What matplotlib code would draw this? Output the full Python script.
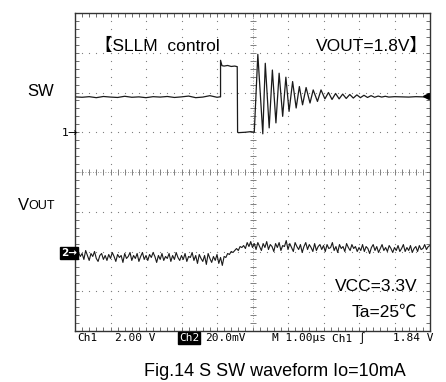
import numpy as np
import matplotlib.pyplot as plt

# SW (ch1), volts vs time in us
sw_base_t = [0.0, 0.2, 0.4, 0.6, 0.8, 1.0, 1.2, 1.4, 1.6, 1.8, 2.0, 2.2, 2.4, 2.6, 2.8,
             3.0, 3.2, 3.4, 3.6, 3.8, 4.0, 4.08]
sw_base_v = [1.78, 1.76, 1.79, 1.74, 1.80, 1.77, 1.75, 1.81, 1.76, 1.78, 1.74, 1.79, 1.77,
             1.80, 1.75, 1.78, 1.82, 1.74, 1.77, 1.84, 1.76, 1.78]
sw_pulse_t = [4.10, 4.10, 4.14, 4.20, 4.30, 4.40, 4.50, 4.57, 4.58, 4.60, 4.80, 4.95, 5.05]
sw_pulse_v = [1.78, 3.62, 3.35, 3.33, 3.36, 3.31, 3.33, 3.30, 0.0, -0.02, 0.0, 0.03, 0.0]
sw_ring_t = [5.15, 5.29, 5.36, 5.47, 5.56, 5.66, 5.75, 5.85, 5.94, 6.03, 6.13, 6.23, 6.32,
             6.41, 6.51, 6.62, 6.71, 6.83, 6.93, 7.04, 7.14, 7.24, 7.34, 7.44, 7.54, 7.64,
             7.74, 7.84, 7.94, 8.04, 8.14, 8.24, 8.34, 8.44, 8.54, 8.64, 8.74, 8.84, 9.0,
             9.2, 9.4, 9.6, 9.8, 10.0]
sw_ring_v = [3.92, -0.08, 3.47, 0.22, 3.13, 0.47, 2.97, 0.80, 2.77, 1.05, 2.55, 1.22, 2.30,
             1.38, 2.25, 1.47, 2.13, 1.55, 2.13, 1.68, 2.00, 1.65, 1.95, 1.68, 1.92, 1.70,
             1.90, 1.72, 1.88, 1.74, 1.86, 1.75, 1.84, 1.76, 1.82, 1.77, 1.81, 1.77, 1.79,
             1.78, 1.77, 1.79, 1.78, 1.78]

# VOUT (ch2), mV (AC) sampled every 0.05 us from 0 to 10 us
vout_mv = [
    -1.5, -3.5, -0.5, -2.5, -1.0, -4.0, 0.5, -2.0, -4.5, -1.0, -2.5, 0.0, -3.5, -5.0, -2.0, -1.0, -4.0, -2.0, -4.5, -1.5,
    -3.5, -0.5, -2.5, -5.0, -1.5, -3.0, -2.0, -5.5, -1.0, -3.5, -2.5, -0.5, -4.5, -2.0, -3.5, -1.0, -5.0, -2.5, -0.5, -4.0,
    -2.0, -4.5, -1.5, -3.0, -0.5, -2.5, -5.5, -2.0, -4.0, -1.0, -4.5, -2.5, -3.5, -1.0, -5.0, -2.0, -4.0, -0.5, -3.0, -4.5,
    -2.0, -4.0, -1.0, -5.0, -2.5, -3.0, -0.5, -4.5, -2.0, -6.0, -1.5, -3.5, -5.0, -2.0, -6.5, -1.0, -3.5, -5.5, -2.5, -4.5,
    -1.5, -6.0, -3.0, -7.0, -2.5, -3.0, -1.0, -1.5, 0.0, -0.5, 0.5, 1.5, 0.5, 2.5, 2.0, 3.0, 1.5, 4.5, 2.5, 5.0,
    2.0, 4.0, 1.0, 4.5, 2.5, 0.5, 4.0, 2.0, 5.0, 1.0, 3.5, 2.5, 0.0, 4.0, 2.0, 4.5, 0.5, 3.0, 2.5, 5.5,
    1.0, 4.0, 2.0, 0.0, 4.5, 2.5, 1.0, 3.5, -0.5, 2.5, 4.5, 1.0, 3.5, 2.0, 0.0, 4.0, 0.5, 2.5, 3.5, 1.0,
    3.0, 0.0, 3.5, 1.5, 2.0, 4.5, 0.5, 2.5, -0.5, 3.5, 1.5, 2.5, 0.0, 4.0, 2.0, 0.5, 3.5, 1.5, 2.5, 0.0,
    2.0, 0.5, 3.5, 0.0, 2.5, 1.5, -1.0, 2.0, 3.5, 0.5, 2.5, -0.5, 1.5, 3.5, 0.5, 2.0, 0.0, 3.0, 1.5, -0.5,
    2.0, 0.5, 3.0, 0.0, 1.5, 3.5, 0.0, 2.0, 0.5, 3.0, -0.5, 1.5, 2.5, 0.0, 3.0, 1.0, 1.5, 3.5, 1.0, 2.5,
    3.0]
vout_t = np.linspace(0, 10, len(vout_mv))

ch1_volts_per_div = 2.0
ch2_mv_per_div = 20.0
ch1_ground_div = 1.0
ch2_ground_div = -2.0
trig_level = 1.84

status = ["Ch1", "2.00 V", "Ch2", "20.0mV", "M 1.00\u00b5s", "Ch1 \u222b", "1.84 V"]

txt_font = ['Liberation Sans', 'Noto Sans CJK JP', 'DejaVu Sans']

fig = plt.figure(figsize=(4.46, 3.82), dpi=100)
ax = fig.add_axes([75 / 446, 1 - 331 / 382, 355 / 446, 318 / 382])
ax.set_xlim(0, 10)
ax.set_ylim(-4, 4)

# graticule: dotted division lines
grid_c = '#808080'
sub = np.arange(0.2, 10, 0.2)
subv = np.arange(-3.8, 4, 0.2)
for gx in range(1, 10):
    if gx == 5:
        continue
    ax.plot(np.full(len(subv), gx), subv, ls='none', marker='s', ms=0.8, color=grid_c, mew=0)
for gy in range(-3, 4):
    if gy == 0:
        continue
    ax.plot(sub, np.full(len(sub), gy), ls='none', marker='s', ms=0.8, color=grid_c, mew=0)
# centre cross with small ticks
ax.plot([5, 5], [-4, 4], ls=(0, (1, 2)), lw=0.6, color=grid_c)
ax.plot([0, 10], [0, 0], ls=(0, (1, 2)), lw=0.6, color=grid_c)
ax.plot(np.full(len(subv), 5), subv, ls='none', marker='_', ms=4, color=grid_c, mew=0.7)
ax.plot(sub, np.zeros(len(sub)), ls='none', marker='|', ms=4, color=grid_c, mew=0.7)

ax.set_xticks(np.arange(0, 10.01, 0.2))
ax.set_yticks(np.arange(-4, 4.01, 0.2))
ax.tick_params(direction='in', length=3, width=0.6, color='#555555',
               top=True, right=True, labelbottom=False, labelleft=False)
for s in ax.spines.values():
    s.set_linewidth(1.0)
    s.set_color('#333333')

# traces
sw_t = sw_base_t + sw_pulse_t + sw_ring_t
sw_v = sw_base_v + sw_pulse_v + sw_ring_v
ax.plot(sw_t, ch1_ground_div + np.array(sw_v) / ch1_volts_per_div, color='#1a1a1a', lw=0.9)
ax.plot(vout_t, ch2_ground_div + np.array(vout_mv) / ch2_mv_per_div, color='#1a1a1a', lw=0.8)

# trigger level marker at right edge
ax.plot([9.88], [ch1_ground_div + trig_level / ch1_volts_per_div], marker='<', ms=5,
        color='black', clip_on=False)

# channel ground markers
fig.text(62 / 446, 1 - 133 / 382, "1\u2192", fontsize=8, ha='left', va='center', family='DejaVu Sans')
fig.text(61 / 446, 1 - 253 / 382, "2\u2192", fontsize=7.5, ha='left', va='center', color='white',
         family='DejaVu Sans', fontweight='bold',
         bbox=dict(boxstyle='square,pad=0.05', fc='black', ec='black'))

# annotations
ax.text(0.055, 0.895, "\u3010SLLM  control", transform=ax.transAxes, fontsize=12.5,
        ha='left', va='center', family=txt_font)
ax.text(0.995, 0.895, "VOUT=1.8V\u3011", transform=ax.transAxes, fontsize=12.5,
        ha='right', va='center', family=txt_font)
ax.text(0.965, 0.14, "VCC=3.3V", transform=ax.transAxes, fontsize=12.5,
        ha='right', va='center', family=txt_font)
ax.text(0.965, 0.06, "Ta=25\u2103", transform=ax.transAxes, fontsize=12.5,
        ha='right', va='center', family=txt_font)

fig.text(41 / 446, 1 - 92 / 382, "SW", fontsize=12, ha='center', va='center', family=txt_font)
fig.text(18 / 446, 1 - 205 / 382, "V", fontsize=12, ha='left', va='center', family=txt_font)
fig.text(28 / 446, 1 - 206 / 382, "OUT", fontsize=9, ha='left', va='center', family=txt_font)

# status bar
sx = [77, 115, 179, 205, 272, 332, 393]
for i, (lab, x) in enumerate(zip(status, sx)):
    kw = {}
    col = 'black'
    if lab == "Ch2":
        col = 'white'
        kw['bbox'] = dict(boxstyle='square,pad=0.05', fc='black', ec='black')
    fig.text(x / 446, 1 - 338 / 382, lab, fontsize=8, ha='left', va='center', color=col,
             family='DejaVu Sans Mono', **kw)

fig.text(275 / 446, 1 - 372 / 382, "Fig.14 S SW waveform Io=10mA", fontsize=13,
         ha='center', va='center', family=txt_font)

fig.savefig("out.png", dpi=100)
